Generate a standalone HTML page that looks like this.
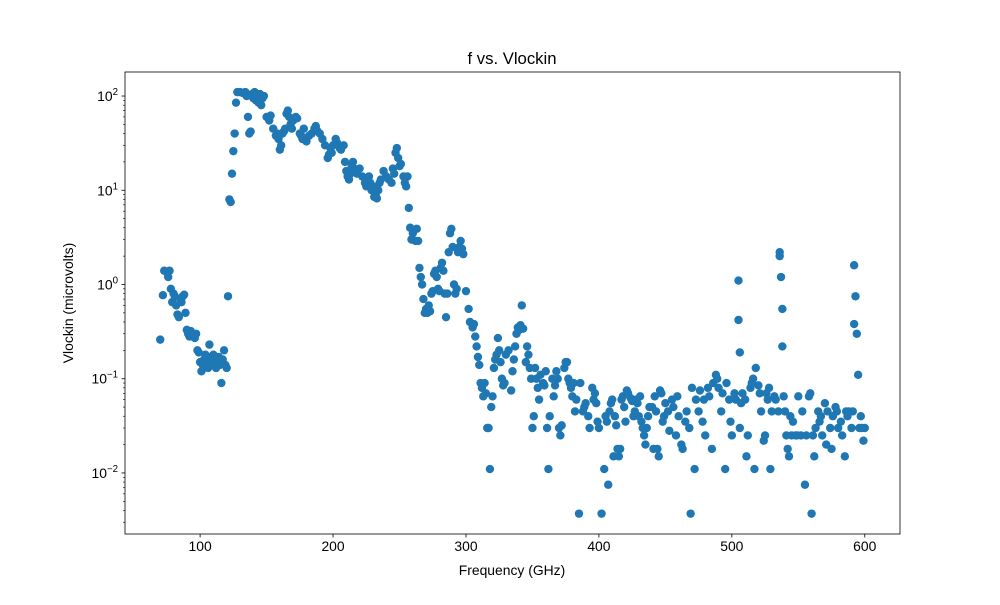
<!DOCTYPE html>
<html><head><meta charset="utf-8"><style>
body{margin:0;background:#fff;}
svg text{font-family:"Liberation Sans","DejaVu Sans",sans-serif;fill:#000;}
</style></head><body>
<svg id="chart" width="1000" height="600" xmlns="http://www.w3.org/2000/svg">
<rect width="1000" height="600" fill="#fff"/>
<text x="512" y="64" font-size="16.7" text-anchor="middle">f vs. Vlockin</text>
<text x="512" y="575" font-size="13.9" text-anchor="middle">Frequency (GHz)</text>
<text transform="translate(73,303) rotate(-90)" font-size="13.9" text-anchor="middle">Vlockin (microvolts)</text>
<g id="points"></g>
<g id="axes"></g>
</svg>
<script>
const freqsHead = [70,72,73,75,76,77,78,79,80,81,82,83,84,85,86,87,88,89,90,91,92,93,94,95,96,97,98,99,100,101,102,103,104,105,106,107,108,109,110,111,112,113,114,115,116,117,118,119,120,121,122,123,124,125,126,127,128,130,132,134,135,136,137,138,139,140,141,142,143,144,145,146,147,148,150,152,153,155,157,158,159,160,161,162,163,164,165,166,167,168,169,170,172,173,175,176,177,178,180,182,184,186,187,188,190,192,194,196,197,198,199,200,202,203,205,206,208,209,210,211,212,213,214,215,216,217,218,220,222,224,225,226,227,228,229,230,231,232,233,234,235,236,238,240,242,244,245,246,247,248,249,250,251,253,254,255,256,257,258,259,260,261,262,263,264,265,266,267,268,269,270,271,272,273,274,275,276,277,278,279,280,281,282,283,284,285,286,287,288,289,290,291,292,293,294,295,296,297,298,300,302,303,305,306,307,308,309,310,311,312,313,314,315,316,317,318,319,320,321,322,323,324,325,326,327,328,329,330,332,334,335,336,337,338,339,340,341,342,343,345,346,347,348,349,350,351,352,353,354,355,356,358,359,360,361,362,363,365,366,367,368,369,370,371,372,374,375,376,377,378,379];
const vlockinHead = [0.26,0.77,1.4,1.35,1.2,1.4,0.9,0.65,0.8,0.75,0.6,0.48,0.45,0.7,0.65,0.75,0.78,0.5,0.33,0.3,0.28,0.32,0.3,0.28,0.27,0.3,0.2,0.19,0.15,0.12,0.14,0.16,0.18,0.15,0.13,0.23,0.17,0.14,0.18,0.16,0.13,0.15,0.17,0.14,0.09,0.16,0.2,0.14,0.13,0.75,8,7.5,15,26,40,85,110,110,108,110,100,60,40,42,105,95,110,90,100,85,105,80,95,100,60,55,62,45,38,40,35,27,30,40,42,45,65,70,60,50,45,55,60,58,40,38,35,45,33,38,40,45,48,43,40,35,30,22,24,28,25,30,35,32,28,27,30,20,16,14,13,15,18,20,17,16,15,17,14,12,11,13,14,12,10,11,8.5,9,8.2,10,12,13,16,14,13,12,17,15,25,28,22,18,19,14,12,11,14,6.5,4,3,3.5,3.8,2.9,3.9,2.9,1.5,1.2,1.0,0.7,0.5,0.55,0.5,0.6,0.52,0.8,0.85,1.3,1.4,1.2,0.9,0.85,1.5,1.7,1.4,0.8,0.45,0.8,2.2,3.5,3.9,2.5,1.0,0.8,0.9,2.2,2.5,2.9,2.4,2.1,0.85,0.55,0.4,0.35,0.38,0.28,0.22,0.17,0.14,0.09,0.08,0.065,0.09,0.07,0.03,0.03,0.011,0.05,0.065,0.13,0.16,0.18,0.27,0.2,0.15,0.1,0.085,0.09,0.18,0.2,0.075,0.12,0.16,0.22,0.3,0.35,0.33,0.37,0.6,0.34,0.15,0.22,0.18,0.13,0.1,0.03,0.04,0.13,0.1,0.08,0.06,0.11,0.09,0.085,0.12,0.03,0.011,0.04,0.1,0.065,0.085,0.12,0.1,0.03,0.025,0.032,0.13,0.15,0.15,0.1,0.09,0.08];
const freqsTail = [380,381,382,383,385,386,388,389,390,392, 393,395,396,397,398,399,400,402,404,405, 406,407,408,409,410,411,412,413,414,415, 416,417,418,419,420,421,422,424,425,426, 427,428,429,430,431,432,433,434,435,436, 437,438,440,441,442,443,444,445,446,447, 448,449,450,452,453,455,456,458,459,460, 462,463,465,466,468,469,470,472,473,475, 476,478,479,480,482,483,485,486,488,489, 490,492,493,495,496,498,499,500,502,503, 505,505,506,506,507,508,510,511,512,514, 515,516,517,518,520,521,522,524,525,526, 527,528,529,530,532,533,535,536,536,537, 538,538,539,540,541,542,543,544,545,546, 548,549,550,552,553,555,556,558,559,560, 561,562,563,565,566,567,568,570,571,572, 574,575,576,578,579,580,582,583,585,586, 587,588,590,591,592,592,593,594,595,596, 597,598,599,600];
const vlockinTail = [0.065,0.09,0.045,0.06,0.0037,0.09,0.045,0.05,0.055,0.04, 0.03,0.08,0.06,0.07,0.055,0.035,0.03,0.0037,0.011,0.04, 0.035,0.0075,0.045,0.055,0.06,0.015,0.04,0.032,0.018,0.015, 0.018,0.06,0.065,0.05,0.035,0.075,0.07,0.062,0.058,0.04, 0.045,0.06,0.055,0.04,0.065,0.035,0.03,0.025,0.02,0.03, 0.04,0.05,0.05,0.018,0.065,0.045,0.018,0.015,0.075,0.07, 0.035,0.04,0.055,0.045,0.028,0.06,0.05,0.025,0.065,0.04, 0.02,0.018,0.035,0.045,0.03,0.0037,0.08,0.011,0.06,0.045, 0.075,0.035,0.06,0.025,0.08,0.065,0.018,0.09,0.11,0.1, 0.08,0.045,0.07,0.011,0.09,0.06,0.035,0.025,0.07,0.06, 1.1,0.42,0.19,0.03,0.055,0.07,0.06,0.015,0.025,0.08, 0.09,0.1,0.011,0.13,0.085,0.07,0.045,0.022,0.025,0.07, 0.06,0.08,0.011,0.045,0.065,0.06,0.045,2.2,2.0,1.2, 0.55,0.22,0.065,0.045,0.025,0.018,0.015,0.04,0.025,0.035, 0.025,0.025,0.065,0.025,0.045,0.0075,0.025,0.065,0.07,0.0037, 0.025,0.015,0.03,0.045,0.035,0.04,0.025,0.055,0.02,0.045, 0.03,0.018,0.04,0.05,0.045,0.03,0.035,0.025,0.015,0.045, 0.04,0.045,0.03,0.045,1.6,0.38,0.75,0.3,0.11,0.03, 0.04,0.03,0.022,0.03];
const xTicks = [100,200,300,400,500,600];
const yTickExps = [-2,-1,0,1,2];

const freqs = freqsHead.concat(freqsTail);
const vlockin = vlockinHead.concat(vlockinTail);
const L=125,R=900,T=72,B=534;
const xmin=43.5,xmax=626.5,ymin=Math.log10(0.00225),ymax=2.255;
const xs=v=>L+(v-xmin)/(xmax-xmin)*(R-L);
const ys=v=>B-(Math.log10(v)-ymin)/(ymax-ymin)*(B-T);
const NS="http://www.w3.org/2000/svg";
const pg=document.getElementById('points'), ag=document.getElementById('axes');
function mk(tag,attrs,parent){const e=document.createElementNS(NS,tag);for(const k in attrs)e.setAttribute(k,attrs[k]);parent.appendChild(e);return e;}
const n=Math.min(freqs.length,vlockin.length);
for(let i=0;i<n;i++){
  const c=mk('circle',{cx:xs(freqs[i]),cy:ys(vlockin[i]),r:4.2,fill:'#1f77b4'},pg);
  
  
}
const frame=mk('rect',{x:L,y:T,width:R-L,height:B-T,fill:'none',stroke:'#000','stroke-width':0.8},ag);


xTicks.forEach(t=>{
  const x=xs(t);
  mk('line',{x1:x,x2:x,y1:B,y2:B+3.5,stroke:'#000','stroke-width':0.8},ag);
  const tx=mk('text',{x:x,y:B+17,'font-size':13.9,'text-anchor':'middle'},ag);
  tx.textContent=t;
  
  
});
for(let e=-3;e<=2;e++){
  for(let m=2;m<=9;m++){
    const v=m*Math.pow(10,e);
    if(Math.log10(v)<ymin||Math.log10(v)>ymax)continue;
    const y=ys(v);
    mk('line',{x1:L-2,x2:L,y1:y,y2:y,stroke:'#000','stroke-width':0.6},ag);
  }
}
yTickExps.forEach(e=>{
  const y=ys(Math.pow(10,e));
  mk('line',{x1:L-3.5,x2:L,y1:y,y2:y,stroke:'#000','stroke-width':0.8},ag);
  const tx=mk('text',{x:L-7,y:y+5,'font-size':13.9,'text-anchor':'end'},ag);
  
  
  const a=document.createElementNS(NS,'tspan');a.textContent='10';tx.appendChild(a);
  const b=document.createElementNS(NS,'tspan');b.setAttribute('dy','-6');b.setAttribute('font-size','9.7');b.textContent=(e<0?'\u2212':'')+Math.abs(e);tx.appendChild(b);
});
</script>
</body></html>
